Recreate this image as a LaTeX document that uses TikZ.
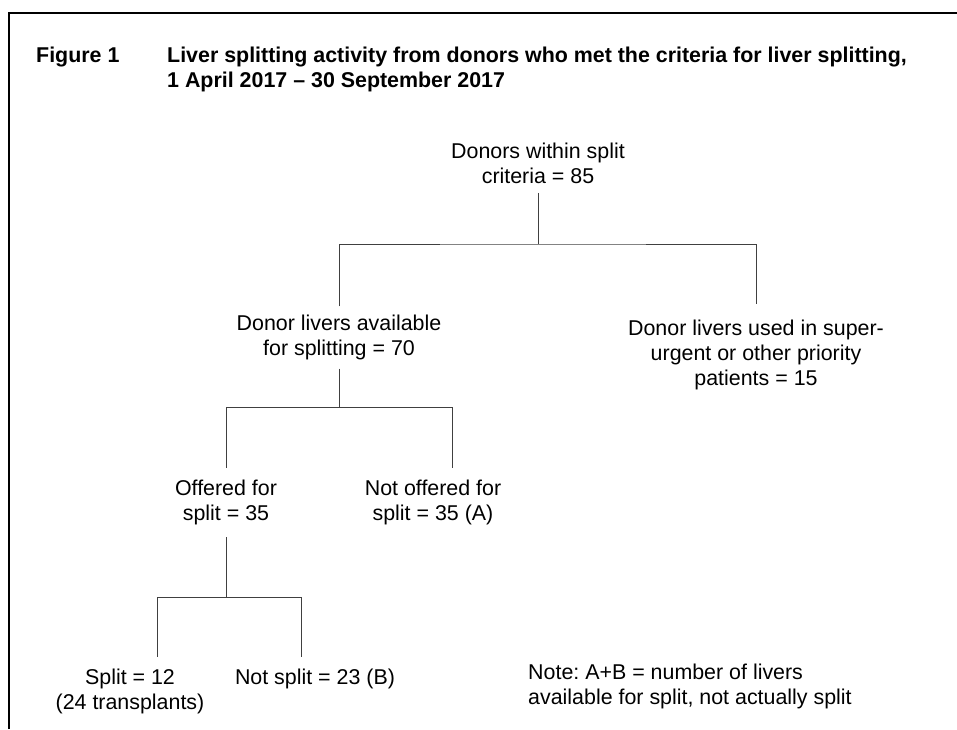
\documentclass[tikz,border=0pt]{standalone}
\usepackage{fontspec}
\setmainfont{Liberation Sans}
\usetikzlibrary{positioning}
\frenchspacing

\begin{document}
\begin{tikzpicture}[
    x=1pt, y=-1pt,
    every node/.style={font=\fontsize{21.4}{25}\selectfont},
    box/.style={align=center, inner xsep=0pt, inner ysep=12pt},
    topbox/.style={box, inner ysep=8.5pt},
    heading/.style={font=\fontsize{21.4}{25}\selectfont\bfseries, inner sep=0pt, align=left},
    note/.style={inner sep=0pt, align=left},
    link/.style={line width=1pt, draw=black!75},
    frame/.style={line width=2.6pt}
]
\useasboundingbox (0,0) rectangle (957,729);
\draw[frame] (9,729) -- (9,13) -- (957,13);

\node[heading, anchor=north west] (fig) at (36,46.5) {Figure 1};
\node[heading, anchor=north west] (title) at (167,46.5) {Liver splitting activity from donors who met the criteria for liver splitting,\\1 April 2017 – 30 September 2017};

\node[topbox] (root) at (538,163.7) {Donors within split\\criteria = 85};
\node[topbox] (avail) at (339,337.5) {Donor livers available\\for splitting = 70};
\node[box, inner ysep=15pt] (prio) at (756,354.5) {Donor livers used in super-\\urgent or other priority\\patients = 15};
\node[box] (offered) at (226,502.5) {Offered for\\split = 35};
\node[box] (notoff) at (433,502.5) {Not offered for\\split = 35 (A)};
\node[box] (split) at (130,691.5) {Split = 12\\(24 transplants)};
\node[box] (notsplit) at (315,679) {Not split = 23 (B)};
\node[note, anchor=north west] (remark) at (528,664) {Note: A+B = number of livers\\available for split, not actually split};

\coordinate (fork1) at (538,244);
\coordinate (fork2) at (339,407);
\coordinate (fork3) at (226,597);

\draw[link] (root.south) -- (fork1);
\draw[link] (avail.north) |- (fork1) -| (prio.north);
\draw[link] (avail.south) -- (fork2);
\draw[link] (offered.north) |- (fork2) -| ([xshift=19pt]notoff.north);
\draw[link] (offered.south) -- (fork3);
\draw[link] ([xshift=27pt]split.north) |- (fork3) -| ([xshift=-14pt]notsplit.north);
\end{tikzpicture}
\end{document}
